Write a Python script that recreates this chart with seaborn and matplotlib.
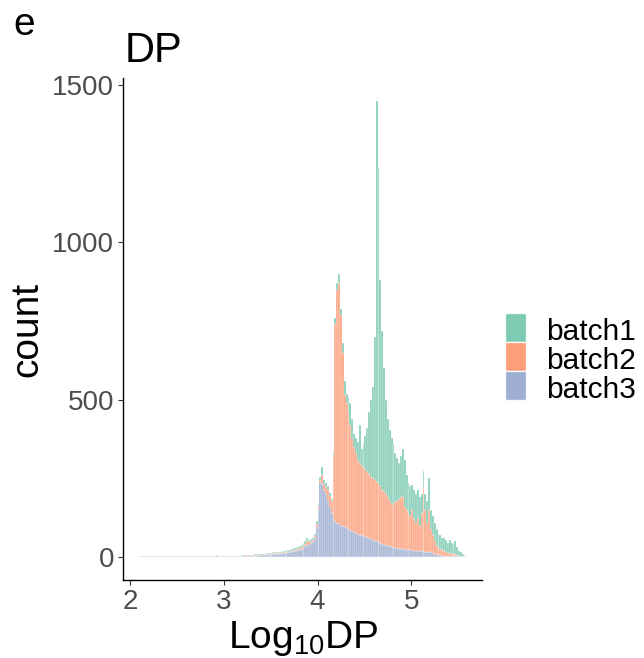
import numpy as np
import pandas as pd
import matplotlib
matplotlib.use("Agg")
import matplotlib.pyplot as plt
import seaborn as sns
from matplotlib.patches import Rectangle

# ---- data: stacked histogram counts per bin (bins of width 0.02 starting at 2.10) ----
bin_start = 2.10
bin_width = 0.02

batch1 = ([0] * 50
          + [0, 0, 1, 0, 0, 1, 0, 1, 1, 0]
          + [1, 1, 2, 1, 1, 2, 1, 3, 2, 2]
          + [3, 3, 4, 4, 3, 4, 5, 4, 5, 5]
          + [5, 6, 6, 4, 6, 7, 7, 9, 10, 10]
          + [7, 6, 7, 7, 10, 10, 10, 23, 13, 13]
          + [13, 10, 7, 10, 20, 20, 28, 20, 30, 45]
          + [30, 50, 70, 60, 40, 50, 55, 120, 55, 75]
          + [105, 140, 195, 245, 290, 455, 1210, 1005, 655, 505]
          + [390, 300, 250, 225, 210, 195, 155, 135, 115, 130]
          + [155, 150, 110, 95, 95, 80, 95, 90, 90, 90]
          + [60, 55, 50, 70, 100, 60, 60, 60, 55, 45]
          + [45, 38, 40, 40, 31, 43, 35, 31, 42, 24]
          + [16, 12, 6, 2])

batch2 = ([0] * 40
          + [0, 3, 0, 0, 1, 0, 0, 1, 0, 1]
          + [1, 2, 1, 0, 2, 1, 3, 2, 1, 2]
          + [2, 3, 2, 2, 3, 2, 3, 2, 3, 3]
          + [3, 3, 3, 3, 2, 3, 3, 2, 3, 4]
          + [2, 3, 4, 4, 4, 4, 4, 6, 7, 10]
          + [8, 7, 7, 8, 10, 10, 7, 30, 17, 22]
          + [32, 35, 38, 200, 625, 740, 767, 670, 552, 420]
          + [398, 370, 334, 296, 270, 252, 235, 228, 220, 217]
          + [215, 207, 205, 197, 195, 193, 190, 187, 180, 173]
          + [170, 162, 154, 146, 138, 135, 146, 152, 158, 163]
          + [164, 135, 126, 117, 108, 128, 99, 90, 105, 81]
          + [121, 200, 132, 93, 132, 75, 58, 40, 27, 23]
          + [19, 17, 15, 11, 10, 9, 7, 6, 6, 4]
          + [2, 2, 1, 0])

batch3 = ([3, 3, 3, 3, 3, 3, 3, 3, 3, 3, 3, 3, 3, 3, 3, 3, 3, 3, 3, 3,
           3, 3, 3, 3, 3, 3, 3, 3, 3, 3, 3, 3, 3, 3, 3, 3, 3, 3, 3, 3]
          + [3, 3, 3, 3, 3, 3, 3, 3, 3, 3]
          + [3, 3, 3, 3, 3, 4, 3, 4, 4, 5]
          + [4, 5, 5, 6, 5, 6, 7, 6, 7, 8]
          + [8, 9, 9, 10, 10, 11, 12, 13, 14, 15]
          + [16, 18, 19, 20, 22, 24, 27, 30, 35, 40]
          + [40, 45, 48, 60, 95, 150, 238, 232, 215, 200]
          + [180, 160, 140, 120, 115, 110, 105, 100, 98, 95]
          + [92, 90, 86, 84, 80, 78, 75, 72, 70, 68]
          + [65, 63, 60, 58, 55, 52, 50, 48, 45, 42]
          + [40, 38, 36, 34, 32, 30, 29, 28, 27, 27]
          + [26, 25, 24, 23, 22, 22, 21, 20, 20, 19]
          + [19, 20, 18, 17, 18, 15, 12, 10, 8, 7]
          + [6, 5, 5, 4, 4, 3, 3, 3, 3, 3]
          + [3, 3, 3, 3])

batch_names = ["batch1", "batch2", "batch3"]
batch_colors = ["#66C2A5", "#FC8D62", "#8DA0CB"]
x_ticks = [2, 3, 4, 5]
y_ticks = [0, 500, 1000, 1500]

# ---- build long table ----
n = len(batch1)
centers = bin_start + bin_width * (np.arange(n) + 0.5)
bin_end = bin_start + bin_width * n
frames = []
for name, vals in zip(batch_names, [batch1, batch2, batch3]):
    frames.append(pd.DataFrame({"x": centers, "w": vals, "batch": name}))
df = pd.concat(frames, ignore_index=True)

sns.set_theme(style="white")
plt.rcParams["font.family"] = ["Liberation Sans", "DejaVu Sans"]
plt.rcParams["mathtext.default"] = "regular"
plt.rcParams["text.color"] = "black"

W, H = 644, 658
fig = plt.figure(figsize=(W / 100, H / 100), dpi=100)
ax = fig.add_axes([123 / W, 1 - 580 / H, (482 - 123) / W, (580 - 78) / H])

sns.histplot(data=df, x="x", weights="w", hue="batch", hue_order=batch_names,
             palette=batch_colors, binwidth=bin_width,
             binrange=(bin_start, bin_end), multiple="stack",
             alpha=0.85, linewidth=0.25, edgecolor="white", legend=False, ax=ax)

ax.set_xlim(1.926, 5.754)
ax.set_ylim(-72.5, 1522.5)
ax.set_xticks(x_ticks)
ax.set_yticks(y_ticks)
ax.set_xlabel("")
ax.set_ylabel("")
for s in ["top", "right"]:
    ax.spines[s].set_visible(False)
for s in ["left", "bottom"]:
    ax.spines[s].set_color("black")
    ax.spines[s].set_linewidth(1.0)
ax.tick_params(axis="both", which="major", length=3.5, width=0.8,
               color="#333333", labelcolor="#4D4D4D", labelsize=20, pad=3,
               bottom=True, left=True)
ax.grid(False)

# titles / labels
fig.text(13 / W, 1 - 35 / H, "e", fontsize=28, va="baseline", ha="left",
         color="black")
fig.text(125 / W, 1 - 62 / H, "DP", fontsize=30, va="baseline", ha="left",
         color="black")
fig.text(27 / W, 1 - 329 / H, "count", fontsize=28, rotation=90,
         va="center", ha="center", color="black")
fig.text(303 / W, 1 - 648 / H, "Log$_{10}$DP", fontsize=28,
         va="baseline", ha="center", color="black")

# legend
key_x0, key_w, key_h, key_top = 505, 21, 29, 313
for i, (name, col) in enumerate(zip(batch_names, batch_colors)):
    y_top = key_top + i * key_h
    fig.patches.append(Rectangle((key_x0 / W, 1 - (y_top + key_h) / H),
                                 key_w / W, key_h / H, transform=fig.transFigure,
                                 facecolor=col, alpha=0.85, edgecolor="white",
                                 linewidth=1.0, figure=fig))
    fig.text(546 / W, 1 - (y_top + key_h - 2) / H, name, fontsize=21.5,
             va="baseline", ha="left", color="black")

fig.savefig("out.png", dpi=100)
